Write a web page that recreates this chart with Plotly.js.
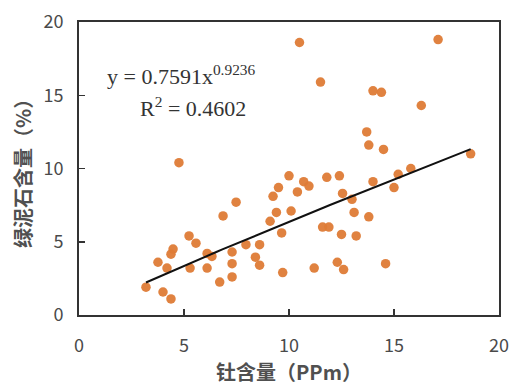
<!DOCTYPE html>
<html>
<head>
<meta charset="utf-8">
<script src="https://cdn.plot.ly/plotly-3.0.1.min.js"></script>
<style>html,body{margin:0;padding:0;background:#fff;}#chart{width:514px;height:392px;}</style>
</head>
<body>
<div id="chart"></div>
<script>
// Thorium content (ppm)
const thorium = [10.5, 17.1, 11.5, 14.0, 14.4, 16.3, 13.7, 13.8, 14.5, 18.65,
  4.76, 15.8, 15.2, 14.0, 15.0, 13.0, 13.1, 13.8, 13.2, 14.6,
  10.0, 9.5, 9.24, 10.7, 10.95, 10.4, 11.8, 12.4, 12.55, 10.1,
  9.4, 9.1, 9.65, 11.6, 11.9, 12.5, 9.7, 11.2, 12.3, 12.6,
  7.95, 8.6, 8.4, 8.6, 7.48, 6.86, 5.24, 5.57, 4.48, 4.38,
  3.76, 4.19, 5.29, 6.1, 6.33, 6.1, 7.29, 7.29, 7.29, 6.7,
  3.19, 4.0, 4.38];
// Chlorite content (%)
const chlorite = [18.6, 18.8, 15.9, 15.3, 15.2, 14.3, 12.5, 11.6, 11.3, 11.0,
  10.4, 10.0, 9.6, 9.1, 8.7, 7.9, 7.0, 6.7, 5.4, 3.5,
  9.5, 8.7, 8.1, 9.1, 8.8, 8.4, 9.4, 9.5, 8.3, 7.1,
  7.0, 6.4, 5.6, 6.0, 6.0, 5.5, 2.9, 3.2, 3.6, 3.1,
  4.8, 4.8, 3.95, 3.4, 7.7, 6.76, 5.4, 4.9, 4.5, 4.15,
  3.6, 3.2, 3.2, 4.2, 4.0, 3.2, 4.3, 3.5, 2.6, 2.25,
  1.9, 1.57, 1.1];
// Power-law fit reported on the chart
const fitA = 0.7591, fitB = 0.9236;
const xTicks = [0, 5, 10, 15, 20];
const yTicks = [0, 5, 10, 15, 20];

const xmin = Math.min(...thorium), xmax = Math.max(...thorium);
const fitX = [], fitY = [];
for (let i = 0; i <= 60; i++) {
  const x = xmin + (xmax - xmin) * i / 60;
  fitX.push(x); fitY.push(fitA * Math.pow(x, fitB));
}

const tickFont = {family: 'Noto Sans CJK SC, Noto Sans, sans-serif', size: 18, color: '#4a4a4a'};
const titleFont = {family: 'Noto Sans CJK SC', size: 20, color: '#505050', weight: 'bold'};
const data = [
  {x: thorium, y: chlorite, type: 'scatter', mode: 'markers',
   marker: {size: 9.5, color: '#DE7B36', opacity: 0.95}, hoverinfo: 'x+y'},
  {x: fitX, y: fitY, type: 'scatter', mode: 'lines',
   line: {color: '#111', width: 2}, hoverinfo: 'skip'}
];
const layout = {
  width: 514, height: 392,
  margin: {l: 79, r: 15, t: 22, b: 77},
  paper_bgcolor: '#fff', plot_bgcolor: '#fff',
  showlegend: false,
  xaxis: {range: [0, 20], tickvals: xTicks, ticktext: xTicks.map(String),
    ticks: 'inside', ticklen: 6, tickwidth: 1.5, tickcolor: '#333',
    showline: true, linecolor: '#333', linewidth: 2, mirror: true,
    showgrid: false, zeroline: false, tickfont: tickFont, ticklabelstandoff: 13,
    title: {text: '钍含量（PPm）', font: titleFont, standoff: 10}},
  yaxis: {range: [0, 20], tickvals: yTicks, ticktext: yTicks.map(String),
    ticks: 'inside', ticklen: 6, tickwidth: 1.5, tickcolor: '#333',
    showline: true, linecolor: '#333', linewidth: 2, mirror: true,
    showgrid: false, zeroline: false, tickfont: tickFont, ticklabelstandoff: 10,
    title: {text: '绿泥石含量（%）', font: titleFont, standoff: 6}},
  annotations: [
    {xref: 'paper', yref: 'paper', x: 0.245, y: 0.82, xanchor: 'center', yanchor: 'middle',
     text: 'y = ' + fitA + 'x<sup>' + fitB + '</sup>', showarrow: false,
     font: {family: 'Liberation Serif, Times New Roman, serif', size: 22, color: '#333'}},
    {xref: 'paper', yref: 'paper', x: 0.272, y: 0.71, xanchor: 'center', yanchor: 'middle',
     text: 'R<sup>2</sup> = 0.4602', showarrow: false,
     font: {family: 'Liberation Serif, Times New Roman, serif', size: 22, color: '#333'}}
  ]
};
Plotly.newPlot('chart', data, layout, {displayModeBar: false, staticPlot: true});
</script>
</body>
</html>
